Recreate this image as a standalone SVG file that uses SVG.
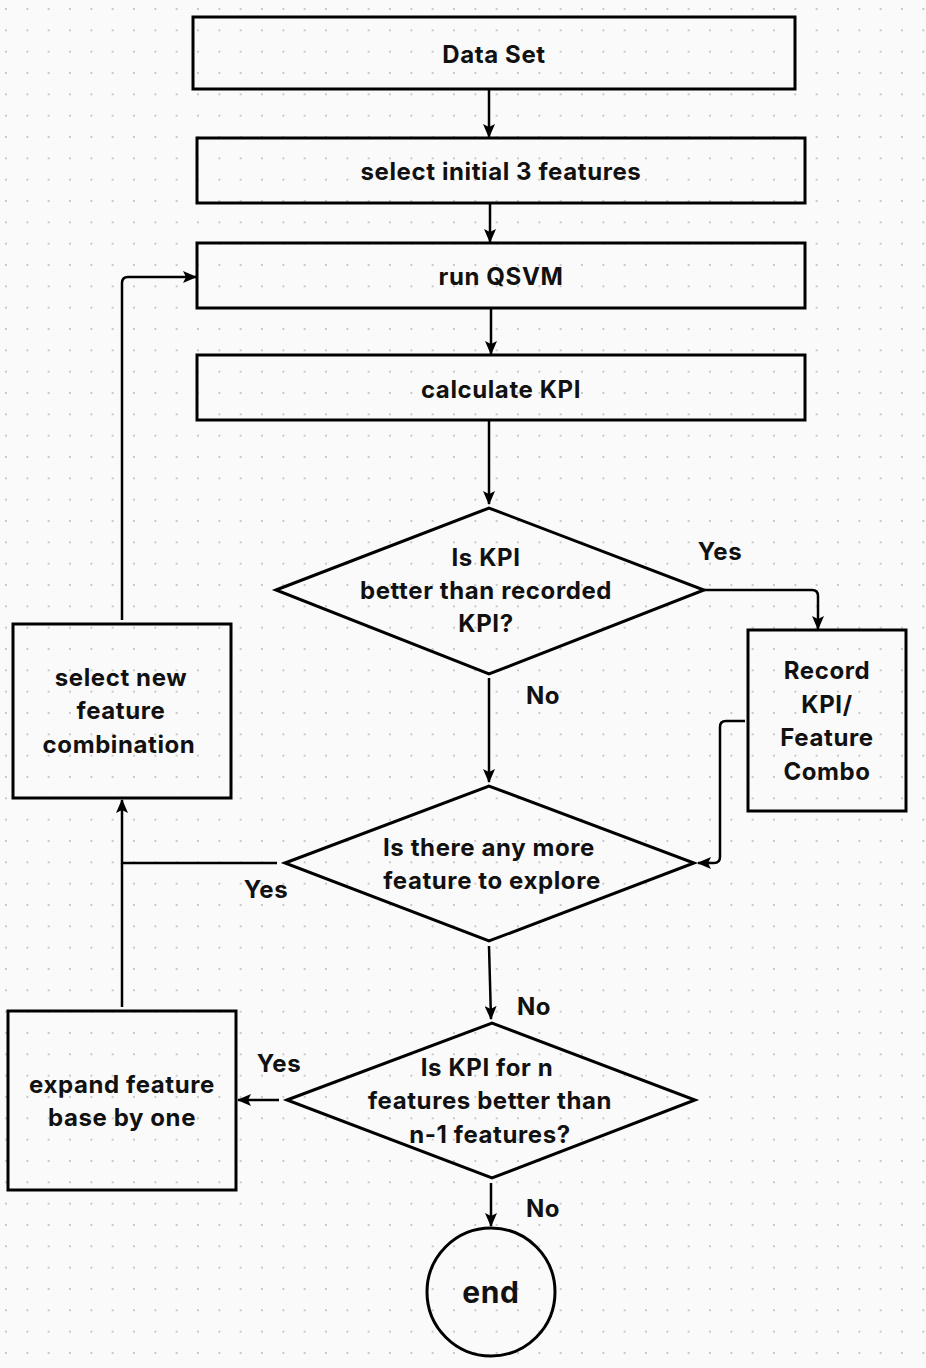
<svg xmlns="http://www.w3.org/2000/svg" width="926" height="1368" viewBox="0 0 926 1368">
<defs>
<pattern id="dots" x="6" y="9" width="21.333" height="21.333" patternUnits="userSpaceOnUse">
<circle cx="0" cy="0" r="1" fill="#b8b8b8"/>
<circle cx="21.333" cy="0" r="1" fill="#b8b8b8"/>
<circle cx="0" cy="21.333" r="1" fill="#b8b8b8"/>
<circle cx="21.333" cy="21.333" r="1" fill="#b8b8b8"/>
</pattern>
<marker id="arr" viewBox="0 0 14 12" refX="13" refY="6" markerWidth="14" markerHeight="12" markerUnits="userSpaceOnUse" orient="auto">
<path d="M0,0 L14,6 L0,12 L3,6 Z" fill="#000"/>
</marker>
<style>
.box{fill:none;stroke:#000;stroke-width:3}
.t{font-family:Inter,"Open Sans","Liberation Sans",sans-serif;font-weight:700;font-size:24px;letter-spacing:0.6px;fill:#111;text-anchor:middle;dominant-baseline:central}
.lbl{font-family:Inter,"Open Sans","Liberation Sans",sans-serif;font-weight:700;font-size:24px;letter-spacing:0.6px;fill:#111;text-anchor:middle;dominant-baseline:central}
.c{fill:none;stroke:#000;stroke-width:2.5;stroke-linejoin:round}
</style>
</defs>
<rect width="926" height="1368" fill="#fafafa"/>
<rect width="926" height="1368" fill="url(#dots)"/>

<g id="connectors">
<path class="c" d="M489,89 L489,137" marker-end="url(#arr)"/>
<path class="c" d="M490,203 L490,242" marker-end="url(#arr)"/>
<path class="c" d="M491,308 L491,354" marker-end="url(#arr)"/>
<path class="c" d="M489,420 L489,504" marker-end="url(#arr)"/>
<path class="c" d="M704,590 L812,590 Q818,590 818,596 L818,629" marker-end="url(#arr)"/>
<path class="c" d="M489,678 L489,782" marker-end="url(#arr)"/>
<path class="c" d="M745,721 L726,721 Q720,721 720,727 L720,857 Q720,863 714,863 L698,863" marker-end="url(#arr)"/>
<path class="c" d="M277,863 L122,863 L122,800" marker-end="url(#arr)"/>
<path class="c" d="M122,620 L122,283 Q122,277 128,277 L196,277" marker-end="url(#arr)"/>
<path class="c" d="M489,946 L491,1019" marker-end="url(#arr)"/>
<path class="c" d="M279,1100 L238,1100" marker-end="url(#arr)"/>
<path class="c" d="M122,1007 L122,863"/>
<path class="c" d="M491,1183 L491,1226" marker-end="url(#arr)"/>
<text class="lbl" x="720" y="551">Yes</text>
<text class="lbl" x="543" y="695">No</text>
<text class="lbl" x="266" y="889">Yes</text>
<text class="lbl" x="534" y="1006">No</text>
<text class="lbl" x="279" y="1063">Yes</text>
<text class="lbl" x="543" y="1208">No</text>
</g>

<g id="data-set">
<rect class="box" x="193" y="17" width="602" height="72"/>
<text class="t" x="494" y="54">Data Set</text>
</g>
<g id="select-initial">
<rect class="box" x="197" y="138" width="608" height="65"/>
<text class="t" x="501" y="171">select initial 3 features</text>
</g>
<g id="run-qsvm">
<rect class="box" x="197" y="243" width="608" height="65"/>
<text class="t" x="501" y="276">run QSVM</text>
</g>
<g id="calculate-kpi">
<rect class="box" x="197" y="355" width="608" height="65"/>
<text class="t" x="501" y="389">calculate KPI</text>
</g>
<g id="kpi-better">
<polygon class="box" points="276,590 489,508 704,590 489,674"/>
<text class="t" x="486" y="557">Is KPI</text>
<text class="t" x="486" y="590">better than recorded</text>
<text class="t" x="486" y="623">KPI?</text>
</g>
<g id="record">
<rect class="box" x="748" y="630" width="158" height="181"/>
<text class="t" x="827" y="670">Record</text>
<text class="t" x="827" y="704">KPI/</text>
<text class="t" x="827" y="737">Feature</text>
<text class="t" x="827" y="771">Combo</text>
</g>
<g id="select-new">
<rect class="box" x="13" y="624" width="218" height="174"/>
<text class="t" x="121" y="677">select new</text>
<text class="t" x="121" y="710">feature</text>
<text class="t" x="119" y="744">combination</text>
</g>
<g id="more-features">
<polygon class="box" points="285,863 489,786 694,863 489,941"/>
<text class="t" x="489" y="847">Is there any more</text>
<text class="t" x="492" y="880">feature to explore</text>
</g>
<g id="n-better">
<polygon class="box" points="287,1100 492,1023 695,1100 492,1178"/>
<text class="t" x="487" y="1067">Is KPI for n</text>
<text class="t" x="490" y="1100">features better than</text>
<text class="t" x="490" y="1134">n-1 features?</text>
</g>
<g id="expand">
<rect class="box" x="8" y="1011" width="228" height="179"/>
<text class="t" x="122" y="1084">expand feature</text>
<text class="t" x="122" y="1117">base by one</text>
</g>
<g id="end">
<circle class="box" cx="491" cy="1292" r="64"/>
<text class="t" x="491" y="1292" style="font-size:30px">end</text>
</g>
</svg>
